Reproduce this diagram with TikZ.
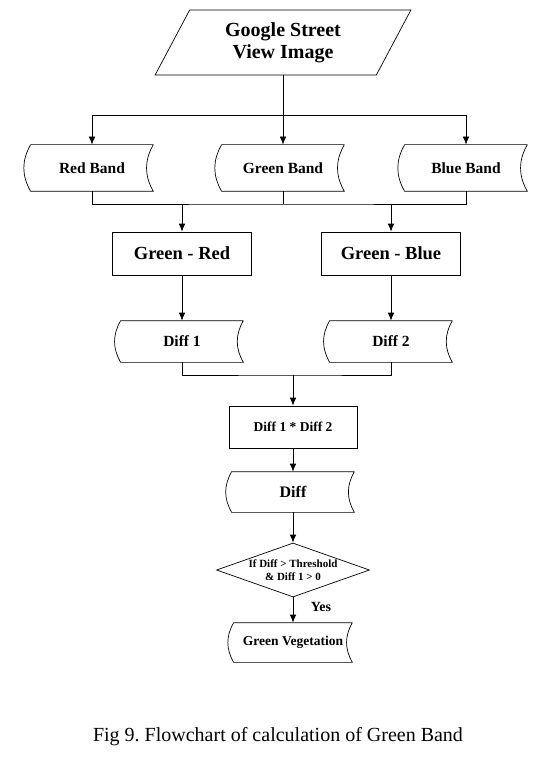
\documentclass[tikz,border=0pt]{standalone}
\usepackage{fontspec}
\setmainfont{Liberation Serif}
\usetikzlibrary{shapes.geometric,arrows.meta}
\frenchspacing
\begin{document}
\begin{tikzpicture}[x=1pt,y=-1pt,line width=0.7pt]
			\tikzstyle{every node}+=[inner sep=0pt]
			\tikzstyle{data}=[minimum width=122pt,minimum height=46pt,font=\fontsize{15.5}{18}\selectfont\bfseries]
			\tikzstyle{proc}=[draw,minimum width=139pt,minimum height=43pt,font=\fontsize{18.5}{22}\selectfont\bfseries]
			\tikzstyle{arr}=[-{Latex[length=8pt,width=6.5pt]}]
			\useasboundingbox (0,0) rectangle (541,759);
			\node [trapezium,trapezium left angle=62,trapezium right angle=118,trapezium stretches,draw,minimum width=256pt,minimum height=65pt,align=center,font=\fontsize{20}{22}\selectfont\bfseries] (gsv) at (283,42.5) {Google Street\\View Image};
			\node [data] (red) at (92,168) {Red Band};
			\node [data] (green) at (283,168) {Green Band};
			\node [data] (blue) at (466,168) {Blue Band};
			\node [proc] (gr) at (182,253.5) {Green - Red};
			\node [proc] (gb) at (391,253.5) {Green - Blue};
			\node [data,minimum height=41pt] (diffa) at (182,341.5) {Diff 1};
			\node [data,minimum height=41pt] (diffb) at (391,341.5) {Diff 2};
			\node [proc,minimum width=128pt,minimum height=42pt,font=\fontsize{13.5}{16}\selectfont\bfseries] (prod) at (293,427) {Diff 1 * Diff 2};
			\node [data,minimum height=40pt,font=\fontsize{16}{18}\selectfont\bfseries] (diff) at (293,492) {Diff};
			\node [diamond,draw,aspect=2.8,minimum width=153pt,minimum height=54pt,align=center,font=\fontsize{11}{12.5}\selectfont\bfseries] (test) at (293,570) {If Diff > Threshold\\\& Diff 1 > 0};
			\node [data,minimum width=118pt,minimum height=39pt,font=\fontsize{13.5}{16}\selectfont\bfseries] (veg) at (293,642.5) {Green Vegetation};
			\node [font=\fontsize{14}{16}\selectfont\bfseries] (yes) at (321,607) {Yes};
			\node [font=\fontsize{20}{24}\selectfont] (cap) at (278,737) {Fig 9. Flowchart of calculation of Green Band};
			% stored data outlines
			\foreach \n in {red,green,blue,diffa,diffb,diff,veg}
				\draw (\n.north east) -- (\n.north west) to[bend right=30] (\n.south west) -- (\n.south east) to[bend left=30] (\n.north east);
			\coordinate (split) at (283,115);
			\coordinate (bus1) at (283,204);
			\coordinate (bus2) at (293,375);
			\draw (split |- gsv.south) -- (split);
			\draw [arr] (split) -| (red.north);
			\draw [arr] (split) -- (green.north);
			\draw [arr] (split) -| (blue.north);
			\draw (red.south) |- (bus1) -| (blue.south);
			\draw (green.south) -- (bus1);
			\draw [arr] (gr.north |- bus1) -- (gr.north);
			\draw [arr] (gb.north |- bus1) -- (gb.north);
			\draw [arr] (gr) -- (diffa);
			\draw [arr] (gb) -- (diffb);
			\draw (diffa.south) |- (bus2) -| (diffb.south);
			\draw [arr] (bus2) -- (prod.north);
			\draw [arr] (prod) -- (diff);
			\draw [arr] (diff) -- (test);
			\draw [arr] (test) -- (veg);
\end{tikzpicture}
\end{document}
